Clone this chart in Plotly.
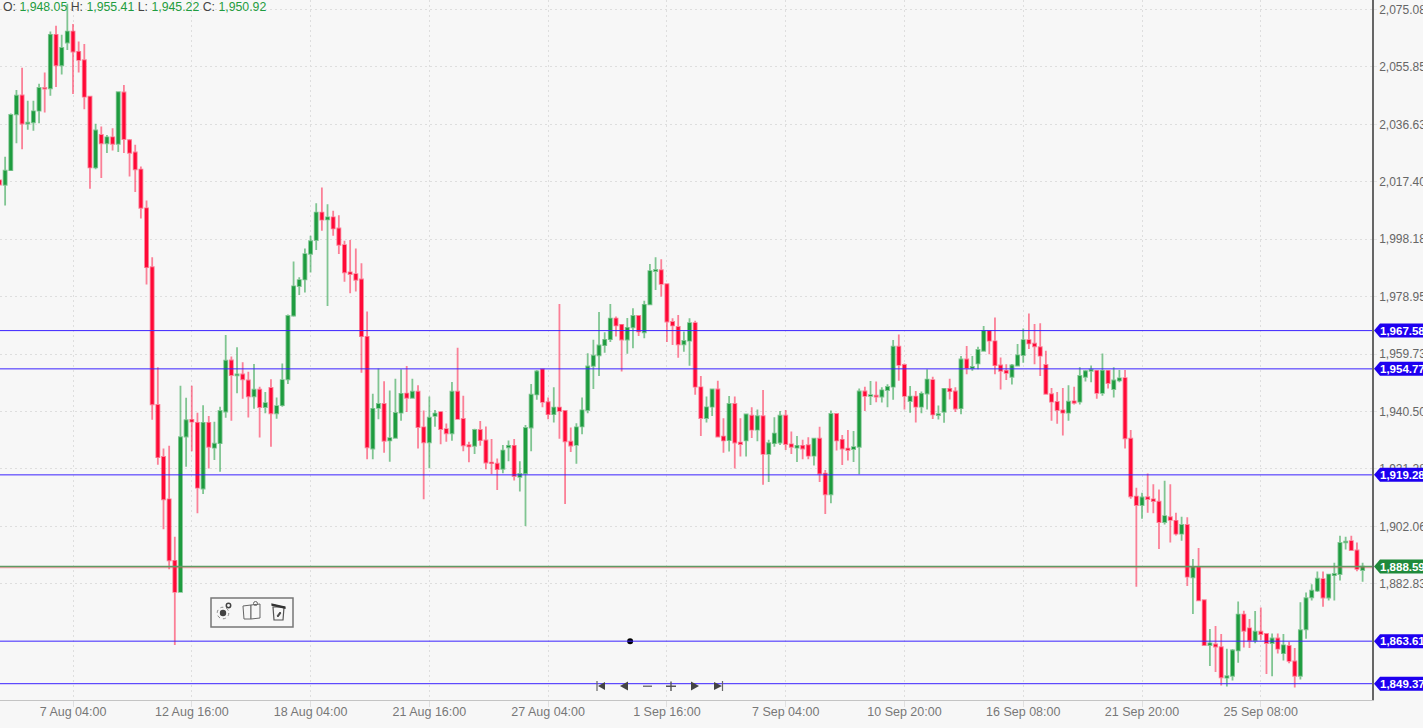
import plotly.graph_objects as go

opens = [
2017.9,2016.4,2021.3,2040.0,2046.3,2036.9,2037.3,2041.2,2048.8,2048.7,
2066.6,2056.4,2064.0,2067.7,2060.9,2058.1,2045.9,2022.2,2033.1,2030.3,
2032.3,2030.1,2047.3,2031.3,2027.2,2021.5,2008.5,1988.8,1942.7,1925.3,
1911.1,1890.5,1880.1,1932.1,1937.7,1936.7,1914.7,1936.7,1928.4,1929.9,
1940.5,1957.6,1952.6,1952.9,1950.9,1945.6,1947.8,1942.0,1948.4,1939.9,
1942.6,1951.3,1972.6,1982.5,1984.7,1993.3,1997.9,2007.1,2004.8,2005.5,
2001.8,1996.2,1987.1,1986.5,1984.7,1965.5,1928.1,1941.7,1943.0,1930.8,
1931.7,1940.1,1946.5,1945.1,1947.1,1935.2,1930.2,1939.0,1940.3,1934.6,
1933.2,1947.1,1938.0,1929.2,1929.0,1934.3,1930.8,1923.4,1923.0,1921.3,
1928.5,1929.0,1918.6,1919.8,1935.1,1946.2,1954.6,1943.6,1939.6,1941.8,
1940.7,1930.4,1929.3,1935.5,1941.0,1955.8,1959.3,1962.7,1964.7,1971.6,
1969.5,1964.6,1968.7,1972.5,1967.0,1976.4,1987.5,1987.8,1983.1,1970.5,
1968.8,1963.0,1964.2,1970.1,1948.6,1938.3,1942.1,1947.9,1932.1,1930.9,
1943.0,1930.1,1930.8,1939.1,1934.4,1938.9,1926.3,1929.9,1930.1,1939.1,
1929.5,1928.4,1929.0,1929.2,1925.7,1931.4,1919.7,1912.8,1939.7,1931.0,
1928.1,1927.9,1928.7,1947.2,1945.7,1945.8,1945.5,1947.7,1948.8,1962.2,
1956.1,1944.0,1945.5,1942.1,1946.5,1951.0,1939.3,1940.4,1948.1,1947.2,
1941.6,1957.9,1955.0,1956.6,1960.8,1967.5,1964.0,1955.9,1954.1,1952.1,
1955.9,1959.4,1964.4,1963.2,1962.0,1956.1,1946.3,1943.7,1940.9,1940.1,
1943.9,1943.8,1952.1,1954.1,1954.1,1946.7,1954.1,1948.0,1950.9,1951.7,
1931.4,1912.0,1909.2,1911.8,1911.1,1910.3,1903.5,1905.1,1903.9,1899.6,
1902.5,1885.0,1888.5,1877.3,1862.3,1862.5,1861.6,1851.4,1852.0,1860.5,
1872.5,1867.9,1863.8,1866.8,1866.0,1863.0,1864.5,1859.6,1862.0,1856.8,
1852.0,1867.6,1878.3,1880.5,1884.4,1878.2,1885.7,1886.1,1896.7,1897.1,
1894.0,1887.4]
highs = [
2018.0,2025.8,2040.3,2048.1,2055.6,2044.5,2044.5,2050.2,2054.0,2067.7,
2069.6,2066.6,2077.0,2070.2,2064.4,2063.5,2046.0,2036.8,2035.9,2033.1,
2035.3,2047.6,2049.8,2031.7,2029.8,2022.5,2011.1,1992.1,1955.3,1928.1,
1929.0,1898.6,1949.1,1945.1,1949.1,1940.1,1942.6,1939.0,1937.1,1942.1,
1966.1,1958.9,1962.0,1957.0,1953.8,1956.4,1948.8,1947.0,1951.3,1945.2,
1956.6,1973.0,1990.7,1985.4,1995.1,1999.3,2010.2,2015.5,2009.9,2007.7,
2006.2,1997.7,1997.9,1995.1,1990.1,1974.0,1946.4,1954.9,1950.6,1947.5,
1951.5,1954.6,1955.7,1951.5,1949.3,1940.8,1945.5,1941.0,1940.3,1936.5,
1950.4,1961.8,1945.8,1930.4,1934.7,1937.3,1935.5,1931.3,1924.8,1929.3,
1930.8,1931.3,1923.8,1936.0,1949.7,1954.4,1954.6,1945.2,1948.6,1976.5,
1940.7,1935.1,1936.6,1945.2,1960.0,1964.5,1973.8,1967.0,1976.5,1972.3,
1969.8,1971.8,1975.1,1972.7,1977.6,1989.9,1992.1,1991.5,1983.1,1971.7,
1972.8,1967.3,1971.7,1970.9,1952.4,1945.5,1947.9,1950.8,1938.2,1945.7,
1945.5,1938.2,1939.7,1941.9,1941.2,1947.7,1931.0,1938.6,1940.7,1941.0,
1933.8,1932.3,1931.0,1931.9,1931.5,1935.4,1920.9,1940.8,1939.7,1932.6,
1934.3,1934.0,1948.2,1948.8,1950.7,1950.5,1948.6,1949.6,1964.4,1966.3,
1956.6,1949.0,1947.4,1947.2,1954.6,1952.1,1942.5,1948.2,1951.5,1948.6,
1959.1,1962.4,1959.1,1962.2,1969.1,1967.5,1972.0,1958.6,1956.3,1956.4,
1963.1,1968.3,1973.3,1969.8,1970.0,1960.8,1948.4,1947.0,1948.4,1949.3,
1948.8,1955.3,1954.4,1955.9,1954.4,1959.9,1954.4,1955.3,1954.4,1954.4,
1934.3,1915.0,1913.3,1919.7,1916.1,1914.4,1917.3,1916.1,1906.6,1905.3,
1905.1,1891.1,1894.8,1877.3,1867.7,1868.7,1866.0,1861.1,1861.0,1876.9,
1873.8,1871.0,1873.7,1874.9,1866.2,1866.2,1866.2,1866.0,1863.4,1861.3,
1876.6,1879.9,1882.7,1886.9,1886.9,1886.1,1889.9,1898.9,1898.6,1898.9,
1896.6,1889.9]
lows = [
2016.3,2009.5,2021.1,2030.3,2028.3,2034.8,2034.5,2037.0,2040.6,2046.2,
2049.1,2053.3,2061.5,2046.8,2054.0,2041.7,2015.1,2021.6,2018.7,2027.0,
2027.9,2027.4,2027.0,2019.2,2014.0,2005.1,1983.0,1937.7,1922.7,1901.1,
1887.7,1862.3,1880.1,1922.0,1927.2,1906.4,1912.9,1921.4,1924.3,1920.3,
1938.4,1937.4,1946.6,1944.8,1938.5,1941.4,1931.8,1939.9,1928.7,1938.1,
1942.1,1949.7,1972.2,1979.5,1980.3,1987.0,1994.6,2001.0,1975.8,1999.3,
1993.2,1983.9,1980.1,1980.7,1953.5,1924.5,1924.5,1937.9,1926.7,1923.7,
1931.5,1937.4,1940.3,1944.9,1928.1,1911.1,1921.5,1935.4,1929.5,1930.4,
1930.7,1938.0,1927.2,1923.5,1926.3,1929.0,1921.2,1919.6,1914.2,1919.8,
1923.8,1917.4,1913.7,1902.2,1927.2,1944.4,1941.9,1937.9,1936.8,1931.4,
1909.5,1926.9,1923.0,1932.9,1939.9,1948.0,1952.4,1960.2,1963.8,1965.6,
1953.9,1959.8,1961.7,1965.8,1965.0,1976.2,1981.2,1979.0,1963.8,1962.8,
1958.5,1960.5,1955.8,1946.1,1932.3,1936.8,1939.0,1931.9,1926.7,1927.1,
1921.4,1925.4,1925.4,1931.6,1930.5,1916.0,1916.9,1928.7,1929.3,1927.6,
1926.3,1923.6,1924.5,1924.5,1922.4,1916.9,1906.2,1909.8,1927.4,1922.6,
1924.1,1923.6,1919.5,1940.7,1942.7,1943.6,1943.5,1941.9,1944.4,1950.8,
1941.2,1940.1,1936.8,1939.9,1941.2,1938.0,1937.8,1936.7,1944.5,1940.3,
1939.6,1953.0,1954.1,1954.6,1960.8,1959.7,1953.0,1947.9,1951.0,1949.5,
1955.7,1956.8,1961.4,1956.3,1952.4,1946.3,1937.4,1936.4,1932.5,1937.4,
1942.8,1942.8,1950.5,1950.3,1944.8,1945.8,1948.2,1945.2,1950.3,1928.1,
1911.3,1881.8,1904.6,1906.6,1906.4,1894.5,1902.7,1896.6,1899.0,1897.2,
1882.1,1872.7,1877.2,1862.0,1855.3,1853.3,1848.8,1848.4,1850.4,1856.4,
1861.5,1861.3,1862.9,1864.0,1852.6,1851.9,1859.5,1857.1,1856.2,1848.1,
1850.8,1864.4,1877.2,1880.1,1875.1,1877.2,1877.2,1883.9,1894.3,1893.9,
1887.0,1883.5]
closes = [
2016.5,2021.1,2039.8,2046.2,2036.9,2037.2,2041.0,2048.8,2048.6,2066.6,
2056.4,2062.2,2067.7,2061.0,2058.2,2045.9,2022.2,2034.6,2030.3,2032.3,
2030.1,2047.4,2031.7,2027.1,2021.6,2008.7,1988.8,1942.9,1925.2,1911.1,
1890.7,1880.1,1931.9,1937.6,1937.1,1915.0,1936.7,1928.7,1929.7,1940.7,
1957.5,1952.7,1952.9,1951.3,1945.6,1947.8,1942.0,1943.3,1939.9,1942.3,
1951.0,1972.5,1982.4,1984.5,1993.2,1997.5,2007.1,2004.7,2005.5,2001.8,
1996.3,1987.1,1986.5,1984.6,1965.7,1928.5,1941.4,1943.0,1930.7,1931.6,
1940.0,1946.4,1945.1,1947.1,1935.3,1930.2,1938.4,1939.8,1934.6,1933.2,
1947.1,1938.0,1929.2,1928.8,1934.3,1930.9,1923.4,1923.2,1921.2,1927.4,
1929.0,1918.9,1919.6,1935.0,1946.1,1953.9,1943.7,1939.6,1941.8,1940.7,
1930.5,1929.1,1935.2,1940.9,1955.6,1959.2,1962.6,1964.5,1971.6,1969.3,
1964.6,1968.5,1972.5,1967.3,1976.2,1987.5,1987.9,1983.2,1970.6,1969.3,
1963.0,1964.1,1970.1,1948.8,1938.3,1941.9,1947.9,1932.1,1930.8,1943.0,
1930.1,1929.6,1939.5,1934.4,1938.9,1926.3,1929.9,1933.1,1939.1,1929.6,
1928.7,1929.0,1928.1,1925.7,1931.4,1919.7,1912.8,1939.7,1930.8,1928.1,
1927.6,1928.6,1947.2,1945.7,1946.0,1945.5,1947.6,1948.7,1962.2,1956.1,
1945.7,1945.5,1942.1,1946.4,1951.2,1939.5,1939.6,1948.1,1947.3,1941.5,
1957.9,1955.1,1955.4,1961.1,1967.5,1964.2,1956.0,1954.1,1953.4,1955.9,
1959.3,1964.4,1963.3,1962.3,1959.2,1946.4,1943.8,1941.0,1940.1,1943.8,
1943.4,1952.4,1954.0,1954.5,1946.7,1954.1,1950.0,1950.9,1951.6,1931.5,
1912.1,1909.2,1911.7,1911.2,1910.5,1903.5,1905.5,1904.2,1899.6,1902.5,
1885.2,1888.5,1877.3,1862.3,1862.9,1861.8,1851.5,1851.9,1860.5,1872.5,
1867.1,1863.8,1866.8,1866.0,1863.0,1864.5,1861.1,1862.2,1857.0,1852.0,
1867.3,1878.0,1880.5,1884.5,1878.2,1885.9,1886.1,1896.5,1896.9,1894.1,
1887.8,1888.59]

x_tick_idx = [13, 34, 55, 76, 97, 118, 139, 160, 181, 202, 223]
x_tick_labels = ["7 Aug 04:00", "12 Aug 16:00", "18 Aug 04:00", "21 Aug 16:00", "27 Aug 04:00",
                 "1 Sep 16:00", "7 Sep 04:00", "10 Sep 20:00", "16 Sep 08:00", "21 Sep 20:00", "25 Sep 08:00"]
y_ticks = [2075.08, 2055.85, 2036.63, 2017.40, 1998.18, 1978.95, 1959.73, 1940.50, 1921.28, 1902.06, 1882.83]
levels = [1967.58, 1954.77, 1919.28, 1863.61, 1849.37]
last_price = 1888.59
bid_price = 1888.2
marker_idx = 111.5
ohlc_text = ["1,948.05", "1,955.41", "1,945.22", "1,950.92"]

W, H = 1423, 728
PW, PH = 1372, 700
FONT = "Liberation Sans, Arial, sans-serif"
BG = "#f7f7f7"
RED, GREEN = "#ff0a37", "#1f9c40"
BLUE = "#3a22ff"

def px(x): return x / PW
def py(y): return 1 - y / PH

fig = go.Figure()
fig.add_trace(go.Candlestick(
    x=list(range(len(opens))), open=opens, high=highs, low=lows, close=closes,
    increasing=dict(line=dict(color="rgba(31,156,64,0.55)", width=1.8), fillcolor=GREEN),
    decreasing=dict(line=dict(color="rgba(255,10,55,0.5)", width=1.8), fillcolor=RED),
    whiskerwidth=0, hoverinfo="skip", showlegend=False))
fig.add_trace(go.Scatter(x=[marker_idx], y=[levels[3]], mode="markers",
                         marker=dict(color="black", size=6), hoverinfo="skip", showlegend=False))

shapes, annotations = [], []
def price_line(level, color, width=1):
    shapes.append(dict(type="line", xref="paper", yref="y", x0=0, x1=1, y0=level, y1=level,
                       line=dict(color=color, width=width), layer="above"))
def pill(level, color):
    shapes.append(dict(type="path", xref="paper", yref="y", xsizemode="pixel", ysizemode="pixel",
                       xanchor=1, yanchor=level, path="M 2 0 L 8 -7 L 60 -7 L 60 7 L 8 7 Z",
                       fillcolor=color, line=dict(width=0), layer="above"))
    annotations.append(dict(xref="paper", yref="y", x=px(1378), y=level, xanchor="left", yanchor="middle",
                            showarrow=False, text=f"<b>{level:,.2f}</b>",
                            font=dict(family=FONT, size=11.5, color="white")))

price_line(bid_price, "rgba(255,60,80,0.55)")
price_line(last_price, "#5e9a63", 1.5)
for lv in levels:
    price_line(lv, BLUE)
for lv in levels:
    pill(lv, "#1e00f0")
pill(last_price, "#1f8a3b")

# legend line
g = lambda s: f'<span style="color:{GREEN}">{s}</span>'
legend = f"O: {g(ohlc_text[0])} H: {g(ohlc_text[1])} L: {g(ohlc_text[2])} C: {g(ohlc_text[3])}"
annotations.append(dict(xref="paper", yref="paper", x=px(1), y=py(7), xanchor="left", yanchor="middle",
                        showarrow=False, text=legend, font=dict(family=FONT, size=12.3, color="#444")))

# toolbar and navigation glyphs (chart chrome)
def rect(x0, y0, x1, y1, **kw):
    shapes.append(dict(type="rect", xref="paper", yref="paper", x0=px(x0), x1=px(x1), y0=py(y0), y1=py(y1), **kw))
def circle(cx, cy, r, **kw):
    shapes.append(dict(type="circle", xref="paper", yref="paper", x0=px(cx - r), x1=px(cx + r),
                       y0=py(cy - r), y1=py(cy + r), **kw))
def poly(pts, **kw):
    d = "M " + " L ".join(f"{px(a):.5f} {py(b):.5f}" for a, b in pts) + " Z"
    shapes.append(dict(type="path", xref="paper", yref="paper", path=d, **kw))

rect(211, 598, 293, 627, line=dict(color="#777", width=1.5), fillcolor=BG)
circle(223, 613, 3.2, fillcolor="#444", line=dict(width=0))
circle(223, 613, 5.8, line=dict(color="#888", width=1, dash="dot"))
circle(228.5, 605.5, 2.2, fillcolor="#f7f7f7", line=dict(color="#444", width=1.5))
poly([(243, 606), (251, 605), (251, 619), (244, 619)], line=dict(color="#666", width=1), fillcolor=BG)
poly([(251, 605), (260, 604), (260, 618), (251, 619)], line=dict(color="#666", width=1), fillcolor=BG)
circle(255.5, 603.5, 2, line=dict(color="#666", width=1))
poly([(273, 607), (284, 607), (283, 620), (274, 620)], line=dict(color="#555", width=1.2), fillcolor=BG)
poly([(272, 604), (285, 607), (285, 608.2), (272, 605.2)], line=dict(color="#333", width=1.2), fillcolor="#333")
poly([(277, 616), (280, 612), (281, 613), (278, 617)], line=dict(color="#444", width=0.8), fillcolor="#444")

NAV = "#444"
def vbar(x, y=686, h=5):
    rect(x - 0.6, y - h, x + 0.6, y + h, fillcolor="#666", line=dict(width=0))
vbar(597)
poly([(598, 686), (605, 682), (605, 690)], fillcolor=NAV, line=dict(width=0))
poly([(620, 686), (628, 681.5), (628, 690.5)], fillcolor=NAV, line=dict(width=0))
rect(643, 685.5, 652, 687, fillcolor="#777", line=dict(width=0))
rect(666, 685.5, 676, 687, fillcolor="#555", line=dict(width=0))
rect(670.3, 681.5, 671.7, 691, fillcolor="#555", line=dict(width=0))
poly([(691, 681.5), (699, 686), (691, 690.5)], fillcolor=NAV, line=dict(width=0))
poly([(714, 682), (722, 686), (714, 690)], fillcolor=NAV, line=dict(width=0))
vbar(722.5)

fig.update_layout(
    width=W, height=H, margin=dict(l=0, r=W - PW, t=0, b=H - PH, autoexpand=False),
    paper_bgcolor=BG, plot_bgcolor=BG, showlegend=False, hovermode=False, boxgap=0.22,
    font=dict(family=FONT, size=12, color="#666"),
    shapes=shapes, annotations=annotations,
    xaxis=dict(range=[0.094, 242.66], rangeslider=dict(visible=False), tickmode="array",
               tickvals=x_tick_idx, ticktext=x_tick_labels, showgrid=True, gridcolor="#dedede",
               griddash="2px,3px", gridwidth=1, ticks="outside", ticklen=6, tickcolor="#e0e0e0",
               ticklabelstandoff=-6,
               showline=True, linecolor="#c4c4c4", linewidth=1, zeroline=False,
               tickfont=dict(family=FONT, size=12.5, color="#777")),
    yaxis=dict(range=[1843.91, 2078.26], side="right", tickmode="array", tickvals=y_ticks,
               ticktext=[f"{v:,.2f}" for v in y_ticks], showgrid=True, gridcolor="#dedede",
               griddash="2px,3px", gridwidth=1, ticks="outside", ticklen=3, tickcolor="#e4e4e4",
               showline=True, linecolor="#666", linewidth=1.5, zeroline=False,
               tickfont=dict(family=FONT, size=12, color="#666")),
)
fig.write_html("out.html", config={"displayModeBar": False},
               post_script="document.body.style.margin='0';document.body.style.background='#f7f7f7';document.documentElement.style.overflow='hidden';")
